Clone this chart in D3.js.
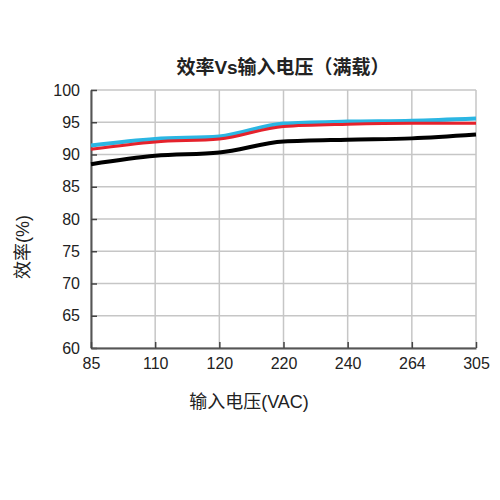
<!DOCTYPE html>
<html>
<head>
<meta charset="utf-8">
<script src="https://cdn.jsdelivr.net/npm/d3@7"></script>
<style>
    body { margin: 0; background: #fff; }
    text { font-family: "Liberation Sans", "Noto Sans CJK SC", sans-serif; fill: #222; }
</style>
</head>
<body>
<div id="chart"></div>
<script>
// input voltage categories (VAC)
var voltages = ['85', '110', '120', '220', '240', '264', '305'];
// efficiency (%) per series
var blueSeries = [91.4, 92.4, 92.8, 94.8, 95.1, 95.25, 95.6];
var redSeries = [90.8, 91.95, 92.4, 94.35, 94.7, 94.85, 94.85];
var blackSeries = [88.5, 89.8, 90.3, 92.0, 92.3, 92.5, 93.1];
var yTicks = [60, 65, 70, 75, 80, 85, 90, 95, 100];

var width = 500;
var height = 500;
var plotLeft = 91, plotRight = 476, plotTop = 90, plotBottom = 348;

var svg = d3.select('#chart')
    .append('svg')
    .attr('width', width)
    .attr('height', height);

var x = d3.scalePoint().domain(voltages).range([plotLeft, plotRight]).padding(0);
var y = d3.scaleLinear().domain([60, 100]).range([plotBottom, plotTop]);

// grid
var grid = svg.append('g');
grid.selectAll('line.h')
    .data(yTicks)
    .enter()
    .append('line')
    .attr('x1', plotLeft).attr('x2', plotRight)
    .attr('y1', function(d) { return y(d); })
    .attr('y2', function(d) { return y(d); })
    .attr('stroke', '#c6c6c6')
    .attr('stroke-width', 1.5);
grid.selectAll('line.v')
    .data(voltages)
    .enter()
    .append('line')
    .attr('x1', function(d) { return x(d); })
    .attr('x2', function(d) { return x(d); })
    .attr('y1', plotTop).attr('y2', plotBottom)
    .attr('stroke', '#c6c6c6')
    .attr('stroke-width', 1.5);

// axes with inner ticks
var yAxis = svg.append('g')
    .attr('transform', 'translate(' + plotLeft + ',0)')
    .call(d3.axisLeft(y).tickValues(yTicks).tickSizeInner(-6).tickSizeOuter(0).tickPadding(11));
var xAxis = svg.append('g')
    .attr('transform', 'translate(0,' + plotBottom + ')')
    .call(d3.axisBottom(x).tickSizeInner(-6).tickSizeOuter(0).tickPadding(10));

[yAxis, xAxis].forEach(function(a) {
    a.select('.domain').attr('stroke', '#555').attr('stroke-width', 2);
    a.selectAll('.tick line').attr('stroke', '#444').attr('stroke-width', 1.5);
    a.selectAll('.tick text').style('font-size', '16px').attr('fill', '#222');
});

var line = d3.line()
    .x(function(d, i) { return x(voltages[i]); })
    .y(function(d) { return y(d); })
    .curve(d3.curveMonotoneX);

svg.append('path').datum(blackSeries)
    .attr('d', line).attr('fill', 'none')
    .attr('stroke', '#000').attr('stroke-width', 4);
svg.append('path').datum(blueSeries)
    .attr('d', line).attr('fill', 'none')
    .attr('stroke', '#2bb6e3').attr('stroke-width', 4);
svg.append('path').datum(redSeries)
    .attr('d', line).attr('fill', 'none')
    .attr('stroke', '#e5222c').attr('stroke-width', 3);

// titles
svg.append('text')
    .attr('x', 283).attr('y', 74)
    .attr('text-anchor', 'middle')
    .style('font-size', '19px')
    .style('font-weight', 'bold')
    .text('效率Vs输入电压（满载）');

svg.append('text')
    .attr('x', 249).attr('y', 408)
    .attr('text-anchor', 'middle')
    .style('font-size', '18px')
    .text('输入电压(VAC)');

svg.append('text')
    .attr('transform', 'translate(29,247) rotate(-90)')
    .attr('text-anchor', 'middle')
    .style('font-size', '18px')
    .text('效率(%)');
</script>
</body>
</html>
